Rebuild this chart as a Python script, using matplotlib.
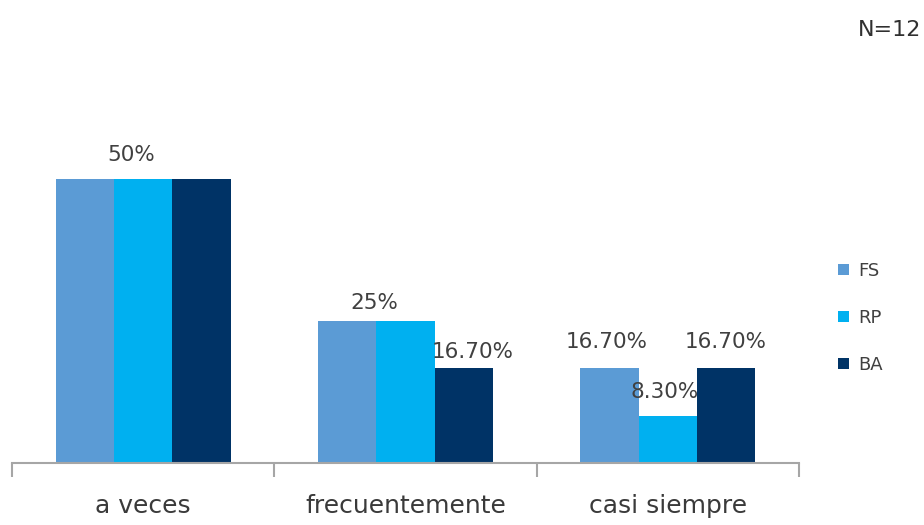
import matplotlib
matplotlib.use("Agg")
import matplotlib.pyplot as plt
import numpy as np

categories = ["a veces", "frecuentemente", "casi siempre"]
series_names = ["FS", "RP", "BA"]
fs_values = [50, 25, 16.7]
rp_values = [50, 25, 8.3]
ba_values = [50, 16.7, 16.7]
fs_labels = ["", "25%", "16.70%"]
rp_labels = ["50%", "", "8.30%"]
ba_labels = ["", "16.70%", "16.70%"]
note_text = "N=12"

colors = ["#5B9BD5", "#00B0F0", "#003366"]
# label offsets in pixels (dx, dy above bar top)
fs_off = [(0, 0), (27, 8), (-3, 16)]
rp_off = [(-12, 14), (0, 0), (-3, 14)]
ba_off = [(0, 0), (9, 6), (-1, 16)]

plt.rcParams['font.family'] = ['DejaVu Sans']
fig = plt.figure(figsize=(9.24, 5.25), dpi=100)
W, H = 924, 525
ax_left, ax_right, ax_bottom, ax_top = 12, 799, 463, 122
ax = fig.add_axes([ax_left / W, 1 - ax_bottom / H, (ax_right - ax_left) / W, (ax_bottom - ax_top) / H])

x = np.arange(len(categories))
w = 0.2226
vals = [fs_values, rp_values, ba_values]
labs = [fs_labels, rp_labels, ba_labels]
offs = [fs_off, rp_off, ba_off]
bars = []
for i, (v, c, name) in enumerate(zip(vals, colors, series_names)):
    b = ax.bar(x + (i - 1) * w, v, width=w, color=c, label=name, zorder=2)
    bars.append(b)
    for j, rect in enumerate(b):
        t = labs[i][j]
        if t:
            dx, dy = offs[i][j]
            ax.annotate(t, (rect.get_x() + rect.get_width() / 2, rect.get_height()),
                        xytext=(dx * 0.72, dy * 0.72), textcoords="offset points",
                        ha="center", va="bottom", fontsize=15.5, color="#404040", zorder=3)

ax.set_xlim(-0.5, 2.5)
ax.set_ylim(0, 60)
for s in ["top", "right", "left"]:
    ax.spines[s].set_visible(False)
ax.spines["bottom"].set_color("#A6A6A6")
ax.spines["bottom"].set_linewidth(1.5)
ax.set_yticks([])
ax.set_xticks([-0.5, 0.5, 1.5, 2.5], minor=True)
ax.set_xticks(x)
ax.set_xticklabels(categories, fontsize=18, color="#3A3A3A")
ax.tick_params(axis="x", which="major", length=0, pad=22)
ax.tick_params(axis="x", which="minor", length=10, width=1.5, color="#A6A6A6")

leg = fig.legend(handles=bars, labels=series_names, loc="center left",
                 bbox_to_anchor=(822 / W, 1 - 318 / H), frameon=False,
                 fontsize=13, handlelength=0.6, handleheight=0.6,
                 labelspacing=1.6, handletextpad=0.5, labelcolor="#404040")

fig.text(921 / W, 1 - 30 / H, note_text, ha="right", va="center", fontsize=16, color="#303030")

fig.savefig("out.png", dpi=100)
